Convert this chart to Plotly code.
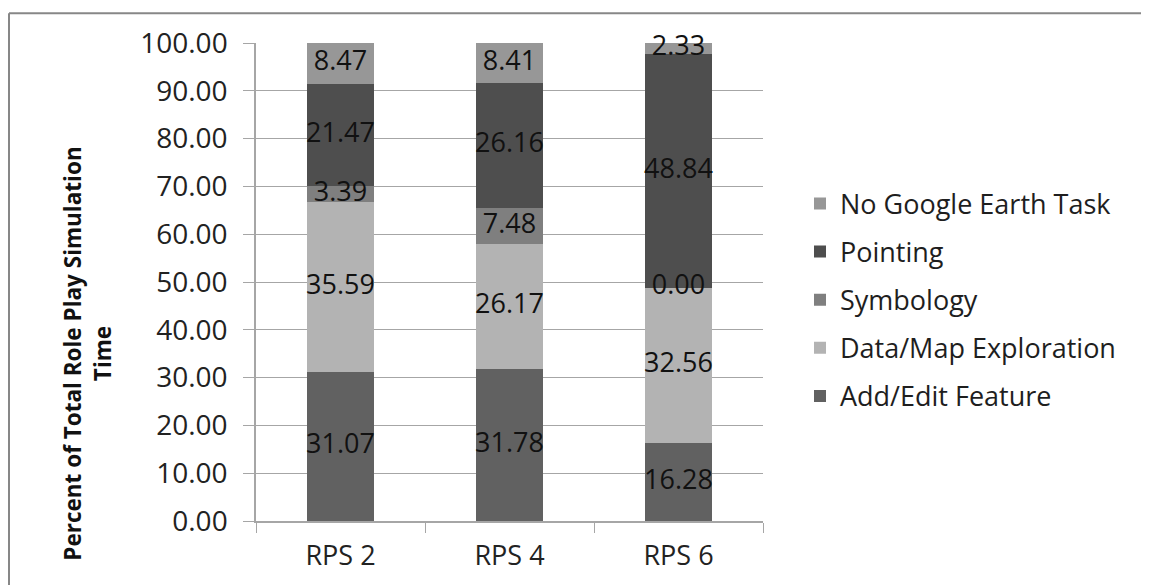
import plotly.graph_objects as go
import numpy as np

categories = ["RPS 2", "RPS 4", "RPS 6"]
series_names = ["Add/Edit Feature", "Data/Map Exploration", "Symbology", "Pointing", "No Google Earth Task"]
add_edit = [31.07, 31.78, 16.28]
data_map = [35.59, 26.17, 32.56]
symbology = [3.39, 7.48, 0.00]
pointing = [21.47, 26.16, 48.84]
no_ge = [8.47, 8.41, 2.33]
colors = ["#616161", "#b3b3b3", "#7f7f7f", "#4e4e4e", "#979797"]
y_ticks = [0, 10, 20, 30, 40, 50, 60, 70, 80, 90, 100]

all_series = [add_edit, data_map, symbology, pointing, no_ge]

FONT = "Open Sans"
FS = 27
fig = go.Figure()
n = len(series_names)
for i, (name, vals, col) in enumerate(zip(series_names, all_series, colors)):
    fig.add_trace(go.Bar(x=categories, y=vals, name=name, marker=dict(color=col, line=dict(width=0)),
                         legendgroup=name, legendrank=n - i, hoverinfo="skip"))

# data labels at segment midpoints
base = np.zeros(len(categories))
lx, ly, lt = [], [], []
for vals in all_series:
    v = np.array(vals)
    mids = base + v / 2
    for c, m, val in zip(categories, mids, v):
        lx.append(c); ly.append(m); lt.append(f"{val:.2f}")
    base = base + v
fig.add_trace(go.Scatter(x=lx, y=ly, text=lt, mode="text", showlegend=False,
                         textfont=dict(family=FONT, size=FS, color="#111111"),
                         textposition="middle center", hoverinfo="skip", cliponaxis=False))

OFF = 8  # page body offset
W, H = 1149 - OFF, 585 - OFF
L, R, T, B = 256 - OFF, 763 - OFF, 43 - OFF, 523 - OFF
def px(x): return (x - OFF - L) / (R - L)
def py(y): return (B - (y - OFF)) / (B - T)

fig.update_layout(
    width=W, height=H, barmode="stack", bargap=0.6,
    margin=dict(l=L, r=W - R, t=T, b=H - B, pad=0),
    paper_bgcolor="white", plot_bgcolor="white",
    font=dict(family=FONT, size=FS, color="#222222"),
    legend=dict(x=px(800), y=py(180), xanchor="left", yanchor="top",
                traceorder="grouped", tracegroupgap=10,
                font=dict(family=FONT, size=FS, color="#1e1e1e"),
                itemwidth=30, bgcolor="rgba(0,0,0,0)"),
    showlegend=True,
)
fig.update_xaxes(showgrid=False, showline=True, linecolor="#a6a6a6", linewidth=1.5,
                 ticks="outside", tickson="boundaries", ticklen=10, tickcolor="#a6a6a6",
                 ticklabelstandoff=10,
                 tickfont=dict(family=FONT, size=FS, color="#222222"))
fig.update_yaxes(range=[0, 100], tickvals=y_ticks, ticktext=[f"{v:.2f}" for v in y_ticks],
                 showgrid=True, gridcolor="#a6a6a6", gridwidth=1,
                 showline=True, linecolor="#a6a6a6", linewidth=1.5,
                 ticks="outside", ticklen=11, tickcolor="#a6a6a6",
                 ticklabelstandoff=10,
                 tickfont=dict(family=FONT, size=28, color="#222222"), zeroline=False)

fig.add_annotation(text="<b>Percent of Total Role Play Simulation<br>Time</b>", textangle=-90,
                   xref="paper", yref="paper", x=px(87), y=py(355), xanchor="center", yanchor="middle",
                   showarrow=False,
                   font=dict(family=FONT, size=22.5, color="#111111"), align="center")

# outer chart border (only top and left visible in frame)
fig.add_shape(type="line", xref="paper", yref="paper", x0=px(9), x1=px(1200), y0=py(13), y1=py(13),
              line=dict(color="#878787", width=2))
fig.add_shape(type="line", xref="paper", yref="paper", x0=px(9), x1=px(9), y0=py(13), y1=py(640),
              line=dict(color="#878787", width=2))

fig.write_html("out.html")
